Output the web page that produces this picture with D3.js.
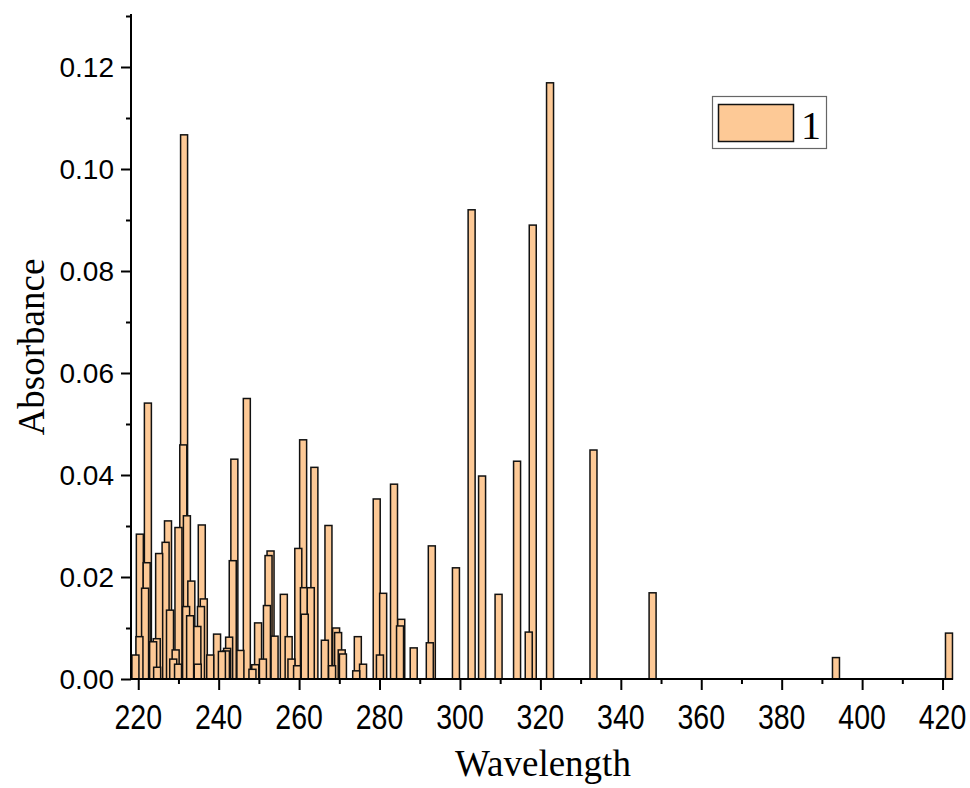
<!DOCTYPE html>
<html>
<head>
<meta charset="utf-8">
<script src="https://cdn.jsdelivr.net/npm/d3@7"></script>
<style>
  body { margin: 0; background: #fff; }
  svg { display: block; }
</style>
</head>
<body>
<svg id="chart" width="970" height="788"></svg>
<script>
// wavelengths (nm) and absorbance of each transition
const wavelength = [
  219.3, 220.3, 220.4, 221.7, 222.1, 222.4, 223.7, 224.6, 224.7, 225.2,
  226.8, 227.4, 227.9, 228.7, 229.3, 229.9, 230.0, 231.2, 231.4, 231.9,
  232.1, 232.9, 233.2, 234.7, 234.8, 235.6, 235.8, 236.3, 237.9, 239.6,
  240.8, 241.8, 242.1, 242.6, 243.5, 243.9, 245.4, 247.0, 248.4, 249.1,
  249.8, 251.0, 252.0, 252.4, 252.9, 253.9, 256.2, 257.4, 258.1, 259.5,
  259.8, 261.0, 261.2, 261.4, 262.9, 263.8, 266.4, 267.3, 268.2, 269.2,
  269.7, 270.6, 270.9, 274.2, 274.6, 275.9, 279.3, 280.1, 280.9, 283.6,
  285.1, 285.4, 288.5, 292.5, 293.0, 299.0, 302.9, 305.5, 309.6, 314.2,
  317.1, 318.1, 322.4, 333.2, 347.9, 393.5, 421.6
];
const absorbance = [
  0.0047, 0.0083, 0.0284, 0.0178, 0.0228, 0.0541, 0.0073, 0.0079, 0.0023, 0.0246,
  0.0268, 0.0310, 0.0135, 0.0039, 0.0057, 0.0029, 0.0297, 0.0459, 0.1067, 0.0142,
  0.0320, 0.0124, 0.0192, 0.0103, 0.0029, 0.0142, 0.0302, 0.0157, 0.0047, 0.0088,
  0.0054, 0.0055, 0.0060, 0.0082, 0.0232, 0.0431, 0.0056, 0.0550, 0.0019, 0.0028,
  0.0110, 0.0039, 0.0144, 0.0242, 0.0251, 0.0084, 0.0166, 0.0083, 0.0039, 0.0026,
  0.0256, 0.0469, 0.0179, 0.0127, 0.0179, 0.0415, 0.0076, 0.0301, 0.0026, 0.0100,
  0.0091, 0.0057, 0.0049, 0.0016, 0.0083, 0.0029, 0.0353, 0.0047, 0.0168, 0.0382,
  0.0104, 0.0117, 0.0061, 0.0071, 0.0261, 0.0218, 0.0920, 0.0398, 0.0166, 0.0427,
  0.0092, 0.0890, 0.1169, 0.0449, 0.0169, 0.0042, 0.0090
];
const xTicks = [220, 240, 260, 280, 300, 320, 340, 360, 380, 400, 420];
const yTicks = [0, 0.02, 0.04, 0.06, 0.08, 0.10, 0.12];
const seriesName = "1";

const barFill = "#fdc996";
const svg = d3.select("#chart");

const x = d3.scaleLinear().domain([218.2, 422.6]).range([131, 953]);
const y = d3.scaleLinear().domain([0, 0.13]).range([679, 16]);
const halfW = 0.87; // half bar width in nm

const data = wavelength.map((w, i) => ({ w: w, v: absorbance[i] }))
    // tall ones first so the small outlines stay visible on top
    .sort((a, b) => b.v - a.v);

svg.append("g")
    .selectAll("rect")
    .data(data)
    .join("rect")
    .attr("x", d => x(d.w - halfW))
    .attr("width", d => x(d.w + halfW) - x(d.w - halfW))
    .attr("y", d => y(d.v))
    .attr("height", d => y(0) - y(d.v))
    .attr("fill", barFill)
    .attr("stroke", "#111")
    .attr("stroke-width", 1.5);

// x axis
const xAxis = svg.append("g").attr("transform", `translate(0,${y(0)})`);
xAxis.call(d3.axisBottom(x).tickValues(d3.range(220, 421, 10)).tickSize(5).tickFormat(""));
xAxis.call(g => g.selectAll(".tick line").filter(d => d % 20 === 0).attr("y2", 11));
xAxis.selectAll(".domain").attr("d", `M${x.range()[0]},0H${x.range()[1]}`);
xAxis.selectAll("path, line").attr("stroke", "#000").attr("stroke-width", 2);
xAxis.selectAll(".xlab")
    .data(xTicks)
    .join("text")
    .attr("class", "xlab")
    .attr("transform", d => `translate(${x(d)},50) scale(0.92,1.12)`)
    .attr("text-anchor", "middle")
    .attr("font-family", "Liberation Sans, Arial, sans-serif")
    .attr("font-size", 31)
    .attr("fill", "#000")
    .text(d => d);

// y axis
const yAxis = svg.append("g").attr("transform", `translate(${x.range()[0]},0)`);
yAxis.call(d3.axisLeft(y).tickValues(d3.range(0, 0.1301, 0.01)).tickSize(5).tickFormat(""));
yAxis.call(g => g.selectAll(".tick line").filter(d => Math.round(d * 100) % 2 === 0).attr("x2", -10));
yAxis.selectAll(".domain").attr("d", `M0,${y.range()[0]}V${y.range()[1] - 2}`);
yAxis.selectAll("path, line").attr("stroke", "#000").attr("stroke-width", 2);
yAxis.selectAll(".ylab")
    .data(yTicks)
    .join("text")
    .attr("class", "ylab")
    .attr("x", -17)
    .attr("y", d => y(d) + 10)
    .attr("text-anchor", "end")
    .attr("font-family", "Liberation Sans, Arial, sans-serif")
    .attr("font-size", 28)
    .attr("fill", "#000")
    .text(d => d.toFixed(2));

// axis titles
svg.append("text")
    .attr("x", 543).attr("y", 776)
    .attr("text-anchor", "middle")
    .attr("font-family", "Liberation Serif, Times New Roman, serif")
    .attr("font-size", 37)
    .text("Wavelength");

svg.append("text")
    .attr("transform", "translate(44,347) rotate(-90)")
    .attr("text-anchor", "middle")
    .attr("font-family", "Liberation Serif, Times New Roman, serif")
    .attr("font-size", 37)
    .text("Absorbance");

// legend
const legend = svg.append("g");
legend.append("rect")
    .attr("x", 712.5).attr("y", 96.5).attr("width", 114).attr("height", 52)
    .attr("fill", "#fff").attr("stroke", "#666").attr("stroke-width", 1.2);
legend.append("rect")
    .attr("x", 718.5).attr("y", 104.5).attr("width", 75).attr("height", 37)
    .attr("fill", barFill).attr("stroke", "#111").attr("stroke-width", 1.5);
legend.append("text")
    .attr("x", 801).attr("y", 139)
    .attr("font-family", "Liberation Serif, Times New Roman, serif")
    .attr("font-size", 40)
    .text(seriesName);
</script>
</body>
</html>
